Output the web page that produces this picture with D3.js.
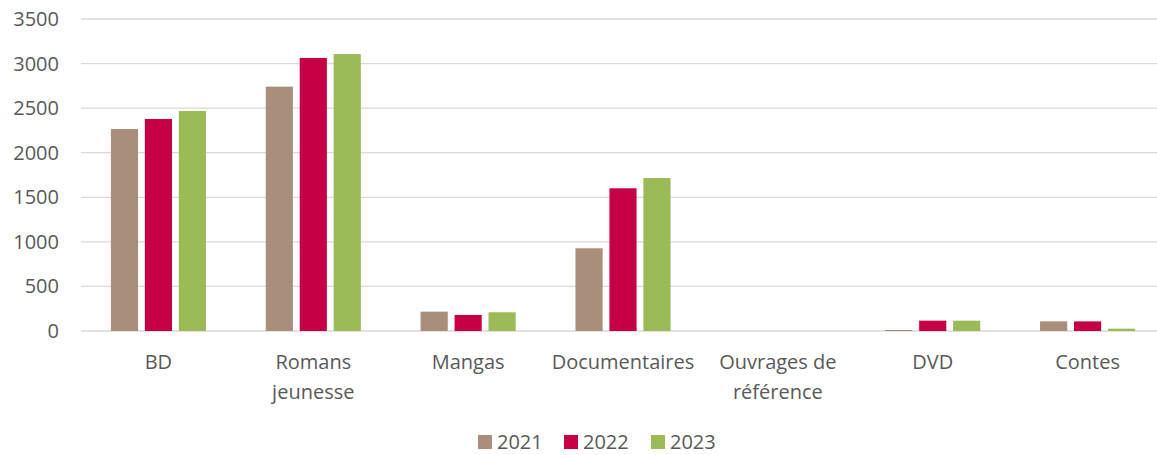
<!DOCTYPE html>
<html><head><meta charset="utf-8">
<script src="https://cdn.jsdelivr.net/npm/d3@7"></script>
<style>body{margin:0;background:#fff}svg{display:block}text{font-family:"Open Sans",sans-serif;fill:#595959}</style>
</head><body><svg id="c" width="1157" height="455"></svg>
<script>
const categories = [["BD"],["Romans","jeunesse"],["Mangas"],["Documentaires"],["Ouvrages de","référence"],["DVD"],["Contes"]];
const seriesNames = ["2021","2022","2023"];
const v2021 = [2266, 2741, 217, 928, 0, 12, 108];
const v2022 = [2378, 3063, 180, 1601, 0, 116, 108];
const v2023 = [2468, 3107, 210, 1716, 0, 116, 26];
const colors = ["#A98E7C","#C60046","#9BBB59"];
const yTicks = [0,500,1000,1500,2000,2500,3000,3500];

const svg = d3.select("#c");
const L=81, R=1165, T=19, B=331, GR=1157;
const catIdx = categories.map((d,i)=>i);
const x0 = d3.scaleBand().domain(catIdx).range([L,R]).paddingInner(0.386).paddingOuter(0.193);
const x1 = d3.scaleBand().domain(seriesNames).range([0,x0.bandwidth()]).paddingInner(0.2).paddingOuter(0);
const y = d3.scaleLinear().domain([0,3500]).range([B,T]);
const data = [v2021,v2022,v2023];
const FS = 20;

// grid
svg.append("g").selectAll("line").data(yTicks).join("line")
  .attr("x1",L).attr("x2",GR).attr("y1",d=>y(d)).attr("y2",d=>y(d))
  .attr("stroke","#d9d9d9").attr("stroke-width",1.3);

// y labels
svg.append("g").selectAll("text").data(yTicks).join("text")
  .attr("x",59).attr("y",d=>y(d)).attr("dy","0.35em").attr("text-anchor","end")
  .attr("font-size",FS).text(d=>d);

// bars
seriesNames.forEach((s,si)=>{
  svg.append("g").selectAll("rect").data(data[si]).join("rect")
    .attr("x",(d,i)=>x0(i)+x1(s)).attr("width",x1.bandwidth())
    .attr("y",d=>y(d)).attr("height",d=>B-y(d))
    .attr("fill",colors[si]);
});

// category labels
const cg = svg.append("g");
categories.forEach((lines,i)=>{
  const cx = x0(i)+x0.bandwidth()/2;
  const t = cg.append("text").attr("text-anchor","middle").attr("font-size",FS)
    .attr("x",cx).attr("y",369);
  lines.forEach((ln,k)=>t.append("tspan").attr("x",cx).attr("dy",k?30:0).text(ln));
});

// legend
const lg = svg.append("g");
const lx = [478,564,651];
seriesNames.forEach((s,i)=>{
  lg.append("rect").attr("x",lx[i]).attr("y",435).attr("width",14).attr("height",14).attr("fill",colors[i]);
  lg.append("text").attr("x",lx[i]+19).attr("y",442).attr("dy","0.35em").attr("font-size",FS).text(s);
});
</script></body></html>
